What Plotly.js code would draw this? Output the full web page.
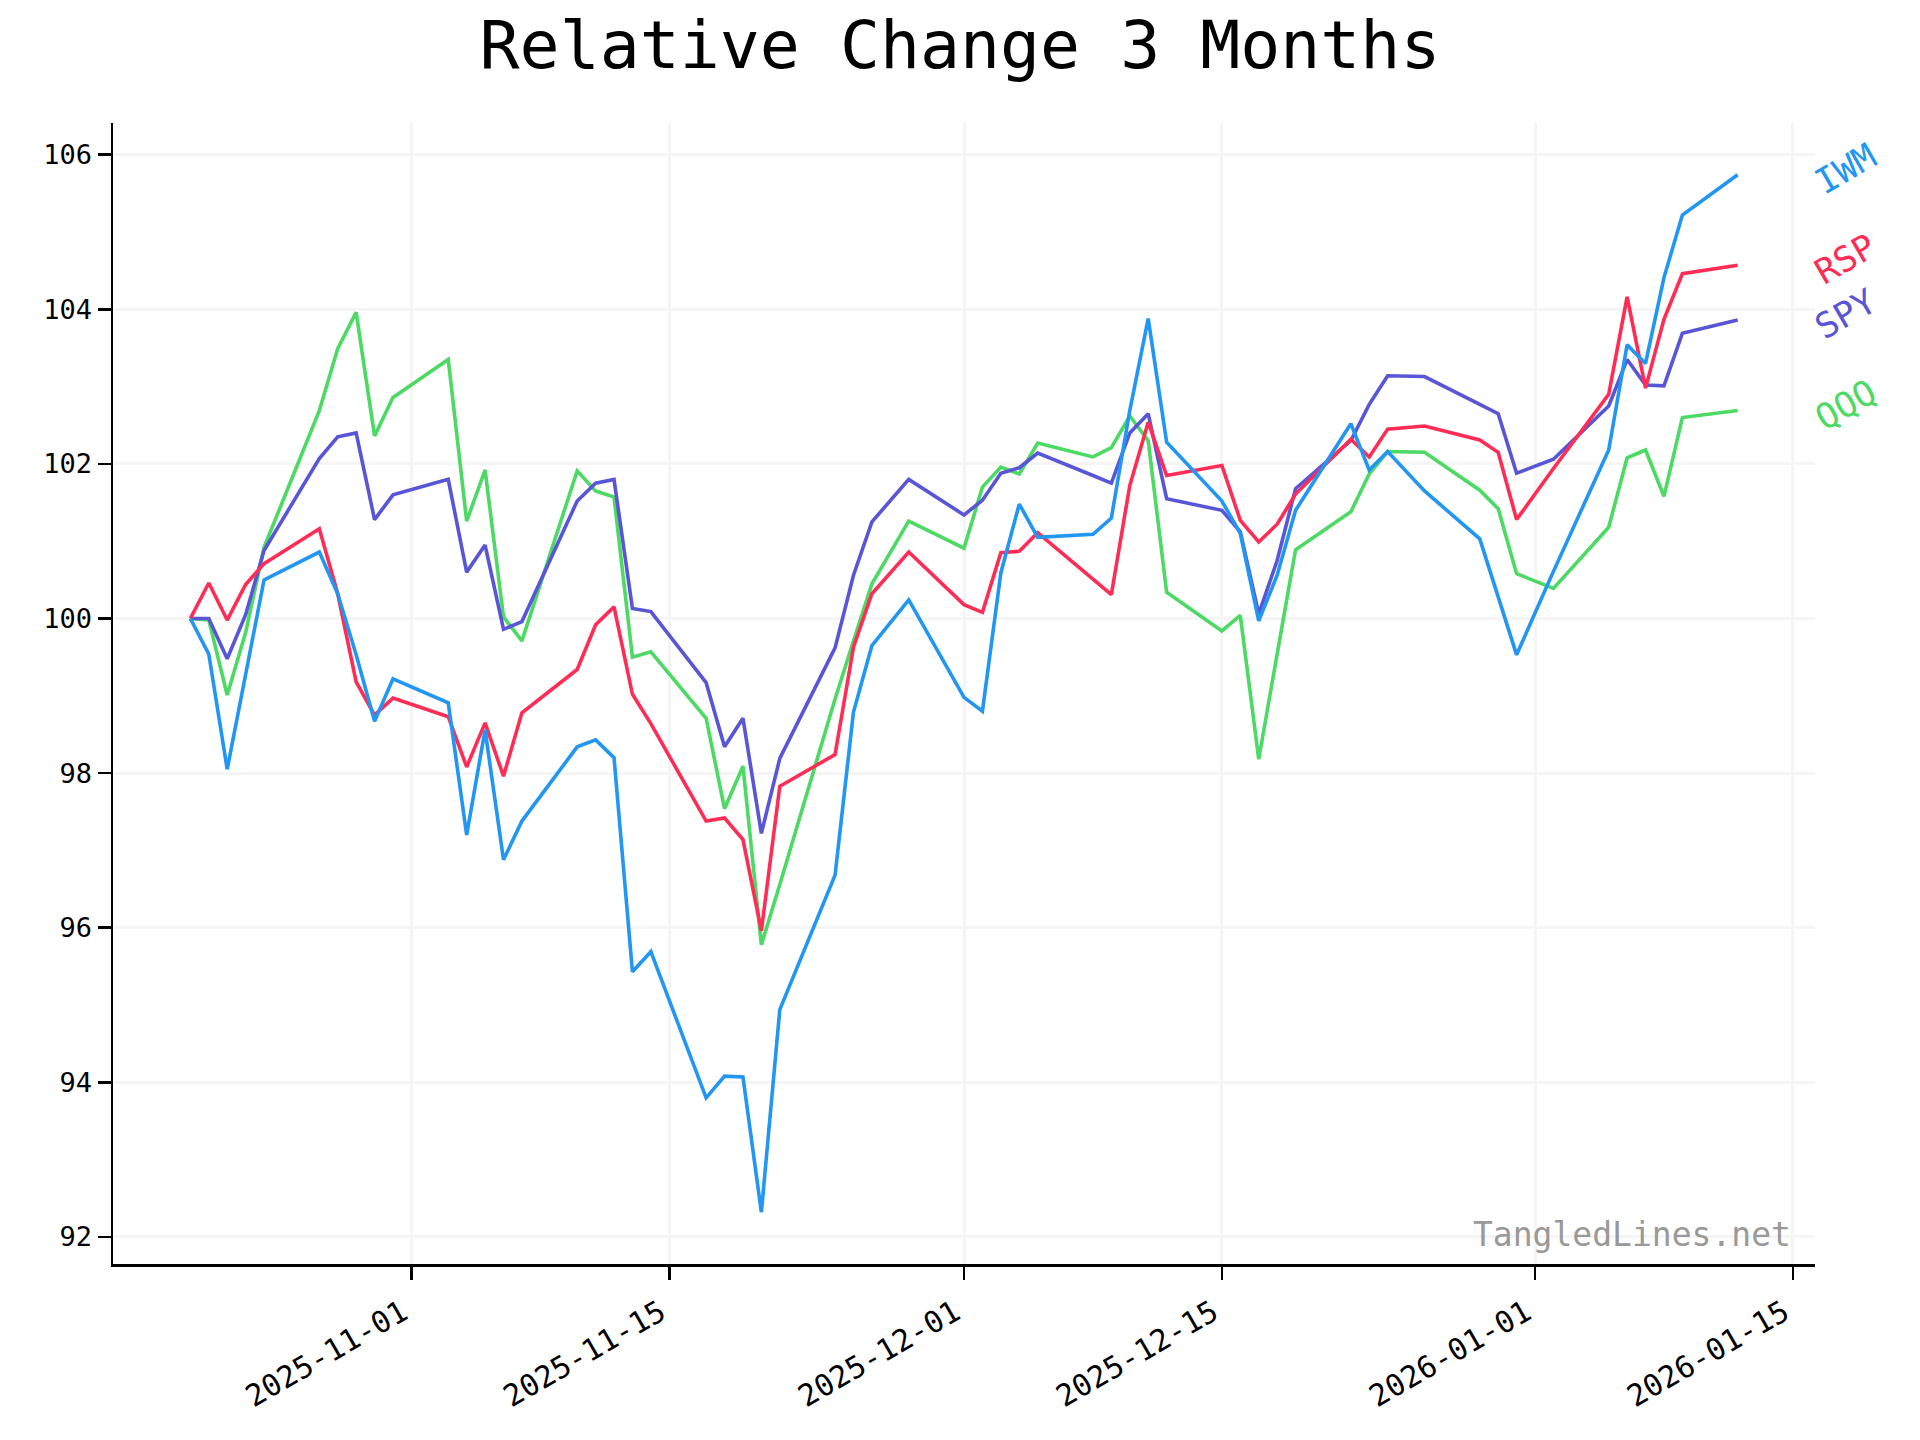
<!DOCTYPE html>
<html>
<head>
<meta charset="utf-8">
<script src="https://cdn.plot.ly/plotly-3.0.1.min.js"></script>
<style>html,body{margin:0;padding:0;background:#fff;}#chart{width:1920px;height:1440px;}</style>
</head>
<body>
<div id="chart"></div>
<script>
const dates = [
  "2025-10-20","2025-10-21","2025-10-22","2025-10-23","2025-10-24","2025-10-27","2025-10-28","2025-10-29","2025-10-30","2025-10-31",
  "2025-11-03","2025-11-04","2025-11-05","2025-11-06","2025-11-07","2025-11-10","2025-11-11","2025-11-12","2025-11-13","2025-11-14",
  "2025-11-17","2025-11-18","2025-11-19","2025-11-20","2025-11-21","2025-11-24","2025-11-25","2025-11-26","2025-11-28",
  "2025-12-01","2025-12-02","2025-12-03","2025-12-04","2025-12-05","2025-12-08","2025-12-09","2025-12-10","2025-12-11","2025-12-12",
  "2025-12-15","2025-12-16","2025-12-17","2025-12-18","2025-12-19","2025-12-22","2025-12-23","2025-12-24","2025-12-26","2025-12-29",
  "2025-12-30","2025-12-31","2026-01-02","2026-01-05","2026-01-06","2026-01-07","2026-01-08","2026-01-09","2026-01-12"
];

const IWM = [100.00,99.54,98.05,99.27,100.50,100.86,100.32,99.53,98.67,99.22,
  98.91,97.20,98.56,96.88,97.38,98.34,98.43,98.20,95.43,95.69,
  93.80,94.08,94.07,92.32,94.94,96.68,98.79,99.65,100.24,
  98.98,98.80,100.59,101.48,101.05,101.09,101.30,102.69,103.88,102.28,
  101.52,101.10,99.97,100.56,101.40,102.52,101.92,102.16,101.65,101.03,
  100.28,99.53,100.61,102.18,103.54,103.30,104.41,105.22,105.74];

const RSP = [100.00,100.46,99.98,100.44,100.71,101.16,100.32,99.18,98.75,98.97,
  98.73,98.08,98.65,97.96,98.78,99.34,99.92,100.15,99.02,98.64,
  97.38,97.42,97.14,95.96,97.83,98.24,99.63,100.32,100.86,
  100.18,100.08,100.85,100.87,101.11,100.51,100.31,101.72,102.54,101.85,
  101.98,101.27,100.99,101.22,101.61,102.32,102.09,102.45,102.49,102.31,
  102.15,101.28,101.94,102.90,104.16,102.98,103.87,104.46,104.57];

const SPY = [100.00,100.00,99.48,100.05,100.88,102.07,102.35,102.40,101.28,101.60,
  101.80,100.60,100.95,99.86,99.96,101.52,101.75,101.80,100.13,100.09,
  99.17,98.34,98.71,97.22,98.19,99.62,100.56,101.25,101.80,
  101.34,101.53,101.88,101.95,102.14,101.85,101.75,102.40,102.65,101.55,
  101.40,101.12,100.06,100.75,101.68,102.30,102.77,103.14,103.13,102.77,
  102.65,101.88,102.06,102.75,103.35,103.02,103.01,103.69,103.86];

const QQQ = [100.00,99.98,99.01,99.82,100.92,102.69,103.49,103.96,102.36,102.86,
  103.35,101.26,101.92,100.02,99.71,101.91,101.65,101.57,99.50,99.57,
  98.71,97.54,98.09,95.78,96.56,98.96,99.71,100.45,101.26,
  100.91,101.70,101.96,101.87,102.27,102.09,102.21,102.62,102.30,100.34,
  99.84,100.04,98.18,99.54,100.89,101.38,101.87,102.16,102.15,101.66,
  101.42,100.58,100.39,101.18,102.08,102.18,101.58,102.60,102.69];

const seriesNames = ["QQQ","SPY","RSP","IWM"];
const seriesValues = {IWM: IWM, RSP: RSP, SPY: SPY, QQQ: QQQ};
const seriesColors = {IWM: "#2196F3", RSP: "#FF2D55", SPY: "#5856D6", QQQ: "#4CD964"};

const xTickVals = ["2025-11-01","2025-11-15","2025-12-01","2025-12-15","2026-01-01","2026-01-15"];
const xTickText = ["2025-11-01","2025-11-15","2025-12-01","2025-12-15","2026-01-01","2026-01-15"];
const yTickVals = [92,94,96,98,100,102,104,106];

const FONT = "DejaVu Sans Mono, monospace";

const traces = seriesNames.map(n => ({
  x: dates, y: seriesValues[n], type: "scatter", mode: "lines", name: n,
  line: {color: seriesColors[n], width: 3.6}, hoverinfo: "skip"
}));

const annotations = seriesNames.map(n => ({
  text: n, xref: "paper", yref: "y", x: 1.018, y: seriesValues[n][seriesValues[n].length - 1],
  xanchor: "center", yanchor: "middle", textangle: -30, showarrow: false, yshift: 6,
  font: {family: FONT, size: 35, color: seriesColors[n]}
}));
annotations.push({
  text: "TangledLines.net", xref: "paper", yref: "paper", x: 0.987, y: 0.026,
  xanchor: "right", yanchor: "middle", showarrow: false,
  font: {family: FONT, size: 33, color: "#999999"}
});

const layout = {
  width: 1920, height: 1440,
  margin: {l: 113, r: 105, t: 123, b: 176, pad: 0},
  paper_bgcolor: "#ffffff", plot_bgcolor: "#ffffff",
  showlegend: false,
  font: {family: FONT, size: 27, color: "#000"},
  title: {text: "Relative Change 3 Months", font: {family: FONT, size: 66.5, color: "#000"},
          x: 0.5, xref: "container", xanchor: "center", y: 1 - 45/1440, yref: "container", yanchor: "middle"},
  xaxis: {
    type: "date", range: ["2025-10-15 19:12", "2026-01-16 04:48"],
    tickmode: "array", tickvals: xTickVals, ticktext: xTickText, tickangle: -30,
    ticklabelshift: -9, ticklabelstandoff: 4,
    showline: true, linecolor: "#000", linewidth: 2.5, mirror: false,
    ticks: "outside", ticklen: 13, tickwidth: 2.5, tickcolor: "#000",
    showgrid: true, gridcolor: "#f5f5f5", gridwidth: 3, zeroline: false,
    tickfont: {family: FONT, size: 30, color: "#000"}
  },
  yaxis: {
    range: [91.65, 106.41], tickmode: "array", tickvals: yTickVals,
    showline: true, linecolor: "#000", linewidth: 2.5, mirror: false,
    ticks: "outside", ticklen: 13, tickwidth: 2.5, tickcolor: "#000",
    showgrid: true, gridcolor: "#f5f5f5", gridwidth: 3, zeroline: false,
    tickfont: {family: FONT, size: 27, color: "#000"}
  },
  annotations: annotations
};

Plotly.newPlot("chart", traces, layout, {displayModeBar: false, staticPlot: true});
</script>
</body>
</html>
